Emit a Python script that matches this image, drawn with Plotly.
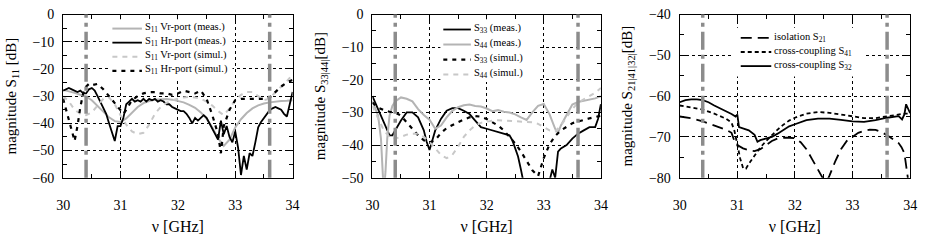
import plotly.graph_objects as go

FONT = "Liberation Serif, Times New Roman, serif"

# ---------------- Panel 1 : S11 ----------------
p1_vr_meas_f = [30.0,30.1,30.2,30.3,30.4,30.5,30.6,30.7,30.8,30.9,31.0,31.1,31.2,31.3,31.4,31.5,31.6,31.7,31.8,31.9,
                32.0,32.1,32.2,32.3,32.4,32.5,32.6,32.7,32.8,32.9,33.0,33.1,33.2,33.3,33.4,33.5,33.6,33.7,33.8,33.9,34.0]
p1_vr_meas_v = [-27.7,-28.2,-28.8,-29.5,-30.2,-31.5,-33.5,-35.8,-37.8,-39.2,-39.5,-38.2,-36.0,-34.0,-32.6,-31.8,-31.3,-31.1,-31.1,-31.3,
                -31.7,-32.3,-33.2,-34.3,-36.0,-38.3,-41.5,-45.5,-48.3,-46.0,-41.5,-38.5,-36.2,-34.5,-33.4,-32.7,-32.3,-32.0,-31.8,-31.7,-31.5]

p1_hr_meas_f = [30.0,30.05,30.1,30.15,30.2,30.25,30.3,30.35,30.4,30.45,30.5,30.55,30.6,30.65,30.7,30.75,30.8,30.85,30.9,30.95,
                31.0,31.05,31.1,31.15,31.2,31.25,31.3,31.35,31.4,31.45,31.5,31.55,31.6,31.65,31.7,31.75,31.8,31.85,31.9,31.95,
                32.0,32.05,32.1,32.15,32.2,32.25,32.3,32.35,32.4,32.45,32.5,32.55,32.6,32.65,32.7,32.75,32.8,32.85,32.9,32.95,
                33.0,33.05,33.1,33.15,33.2,33.25,33.3,33.35,33.4,33.45,33.5,33.55,33.6,33.65,33.7,33.75,33.8,33.85,33.9,33.95,34.0]
p1_hr_meas_v = [-28.0,-27.5,-27.0,-27.5,-28.0,-28.5,-28.0,-29.0,-29.0,-27.5,-27.0,-28.0,-30.0,-32.0,-34.5,-36.5,-40.0,-43.0,-46.5,-41.0,
                -41.0,-38.0,-33.0,-32.0,-31.0,-32.0,-31.5,-32.0,-31.0,-32.0,-31.0,-31.5,-31.0,-32.0,-31.5,-32.0,-33.0,-33.0,-34.0,-34.5,
                -35.0,-35.5,-35.5,-36.5,-38.0,-40.0,-38.0,-39.0,-38.0,-37.0,-38.0,-40.0,-42.0,-44.0,-46.0,-39.0,-44.0,-41.0,-45.0,-47.0,
                -43.0,-49.0,-59.0,-52.0,-57.0,-51.0,-52.0,-47.0,-41.5,-39.5,-38.0,-36.5,-35.2,-34.5,-34.0,-34.5,-35.0,-36.5,-37.5,-33.0,-28.5]

p1_vr_sim_f = p1_vr_meas_f
p1_vr_sim_v = [-30.0,-32.0,-35.0,-36.5,-37.0,-36.0,-33.5,-31.0,-30.5,-33.0,-37.0,-40.5,-43.0,-44.0,-43.5,-40.5,-36.5,-34.0,-32.5,-31.5,
               -31.0,-30.5,-30.3,-30.5,-31.0,-32.0,-33.5,-35.5,-37.0,-34.5,-31.5,-29.5,-28.5,-28.5,-30.0,-31.5,-31.0,-28.5,-26.5,-24.5,-22.0]

p1_hr_sim_f = [30.0,30.05,30.1,30.15,30.2,30.25,30.3,30.35,30.4,30.45,30.5,30.6,30.7,30.8,30.9,31.0,31.05,31.1,31.2,31.3,
               31.4,31.5,31.6,31.7,31.8,31.9,32.0,32.1,32.2,32.3,32.4,32.5,32.6,32.65,32.7,32.75,32.8,32.9,33.0,33.1,
               33.2,33.3,33.4,33.5,33.6,33.7,33.8,33.9,34.0]
p1_hr_sim_v = [-31.0,-35.0,-39.0,-43.0,-46.5,-41.0,-34.0,-29.0,-26.5,-25.5,-26.0,-25.5,-27.5,-30.0,-32.5,-35.0,-36.5,-35.0,-31.5,-30.0,
               -29.0,-28.5,-28.5,-29.0,-29.0,-29.5,-29.0,-28.0,-28.5,-29.0,-28.0,-31.0,-37.0,-41.0,-44.0,-51.0,-41.0,-35.0,-31.5,-31.0,
               -31.0,-31.0,-31.0,-31.0,-30.5,-28.5,-26.5,-25.0,-24.0]

# ---------------- Panel 2 : S33 / S44 ----------------
p2_s33_meas_f = [30.0,30.1,30.2,30.25,30.3,30.35,30.4,30.5,30.6,30.7,30.8,30.9,30.95,31.0,31.05,31.1,31.2,31.3,31.4,31.5,
                 31.6,31.7,31.8,31.9,32.0,32.1,32.2,32.3,32.4,32.45,32.5,32.55,32.6,32.65,32.7,32.8,32.9,33.0,33.05,33.1,
                 33.15,33.2,33.25,33.3,33.4,33.5,33.6,33.7,33.8,33.9,33.95,34.0]
p2_s33_meas_v = [-25.0,-29.0,-33.0,-35.5,-37.0,-37.0,-35.5,-32.5,-30.0,-30.0,-31.5,-35.5,-39.0,-41.5,-38.5,-35.5,-32.0,-29.5,-28.7,-28.7,
                 -29.5,-30.5,-32.5,-34.5,-35.0,-35.5,-36.0,-36.5,-37.0,-38.5,-40.8,-43.5,-47.5,-52.0,-56.0,-58.0,-58.0,-56.0,-54.0,-51.0,
                 -47.5,-50.0,-42.0,-41.0,-40.0,-38.0,-36.5,-35.5,-34.5,-34.5,-32.0,-27.5]

p2_s44_meas_f = [30.0,30.05,30.1,30.15,30.18,30.2,30.23,30.26,30.3,30.35,30.4,30.5,30.6,30.7,30.8,30.9,31.0,31.1,31.2,31.3,
                 31.4,31.5,31.6,31.7,31.8,31.9,32.0,32.1,32.2,32.3,32.4,32.5,32.6,32.7,32.8,32.9,33.0,33.1,33.2,33.25,
                 33.3,33.4,33.5,33.6,33.7,33.8,33.9,34.0]
p2_s44_meas_v = [-26.5,-29.0,-31.0,-38.0,-48.0,-55.0,-48.0,-38.0,-31.0,-28.0,-26.6,-25.4,-25.8,-26.6,-29.0,-30.8,-32.2,-35.0,-34.0,-31.5,
                 -29.5,-28.4,-27.8,-27.6,-28.0,-28.2,-28.8,-29.6,-29.3,-29.8,-30.0,-30.6,-31.5,-32.3,-30.0,-28.0,-27.4,-30.5,-35.0,-36.3,
                 -34.0,-31.0,-27.6,-26.8,-26.5,-26.0,-25.7,-25.0]

p2_s33_sim_f = [30.0,30.1,30.2,30.3,30.4,30.5,30.6,30.7,30.8,30.9,31.0,31.1,31.2,31.3,31.4,31.5,31.6,31.7,31.8,31.9,
                32.0,32.1,32.2,32.3,32.4,32.5,32.6,32.7,32.8,32.9,33.0,33.1,33.2,33.3,33.4,33.5,33.6,33.7,33.8,33.9,34.0]
p2_s33_sim_v = [-27.0,-28.5,-29.3,-29.8,-30.0,-31.0,-33.0,-35.0,-37.0,-38.5,-39.2,-38.5,-36.3,-34.8,-33.8,-33.0,-32.2,-31.5,-31.1,-31.3,
                -32.0,-33.0,-34.0,-35.5,-37.5,-39.5,-42.0,-45.0,-47.7,-49.5,-44.0,-39.8,-37.2,-35.5,-34.3,-33.3,-32.8,-32.2,-31.8,-31.4,-31.0]

p2_s44_sim_f = p2_s33_sim_f
p2_s44_sim_v = [-28.0,-32.0,-35.5,-37.5,-38.0,-37.5,-36.8,-36.5,-36.5,-37.5,-39.0,-41.0,-43.0,-44.0,-43.0,-40.5,-37.5,-35.5,-34.0,-33.2,
                -32.8,-32.5,-32.4,-32.5,-32.7,-32.8,-32.8,-32.8,-33.0,-33.5,-34.5,-35.5,-35.8,-34.0,-31.5,-29.0,-27.0,-26.0,-25.0,-24.0,-22.5]

# ---------------- Panel 3 : S21 / S41 / S32 ----------------
p3_s21_f = [30.0,30.2,30.4,30.6,30.8,30.9,30.95,31.0,31.1,31.2,31.3,31.4,31.5,31.6,31.7,31.8,31.9,32.0,32.1,32.2,
            32.3,32.4,32.5,32.55,32.6,32.7,32.8,32.9,33.0,33.1,33.2,33.3,33.4,33.5,33.6,33.7,33.8,33.85,33.9,33.93,
            33.96,34.0]
p3_s21_v = [-65.0,-65.4,-66.2,-67.2,-68.2,-69.0,-71.0,-72.0,-72.8,-73.3,-73.5,-73.0,-71.9,-71.0,-70.4,-70.2,-70.2,-70.3,-71.3,-73.0,
            -75.5,-78.0,-80.5,-81.0,-79.5,-76.0,-73.0,-71.0,-70.0,-69.0,-68.5,-68.2,-68.3,-68.8,-69.6,-70.5,-71.5,-72.5,-74.0,-77.0,
            -80.0,-82.0]

p3_s41_f = [30.0,30.2,30.4,30.6,30.8,30.9,30.95,31.0,31.05,31.1,31.15,31.2,31.3,31.4,31.5,31.6,31.7,31.8,31.9,32.0,
            32.2,32.4,32.6,32.8,33.0,33.2,33.4,33.6,33.8,33.9,34.0]
p3_s41_v = [-62.3,-62.8,-63.3,-64.3,-65.5,-66.5,-68.5,-71.8,-75.3,-77.6,-77.8,-76.6,-74.5,-72.6,-71.0,-69.5,-68.2,-67.0,-66.0,-65.3,
            -64.3,-63.9,-64.1,-64.5,-65.0,-65.4,-65.4,-65.0,-64.5,-64.3,-64.3]

p3_s32_f = [30.0,30.1,30.2,30.3,30.4,30.5,30.6,30.7,30.8,30.9,30.97,31.0,31.03,31.1,31.2,31.3,31.35,31.4,31.5,31.6,
            31.7,31.8,31.9,32.0,32.2,32.4,32.6,32.8,33.0,33.2,33.4,33.6,33.8,33.86,33.9,33.93,33.96,34.0]
p3_s32_v = [-61.5,-61.0,-60.8,-60.8,-61.0,-61.5,-62.3,-63.0,-63.6,-64.4,-65.0,-64.5,-67.6,-67.9,-68.4,-69.5,-71.2,-70.8,-70.4,-70.0,
            -69.2,-68.2,-67.4,-66.9,-65.9,-65.5,-65.5,-65.8,-66.2,-66.3,-65.9,-65.3,-64.9,-65.7,-64.5,-62.0,-63.0,-64.2]

# band edges (GHz)
band_edges = [30.4, 33.6]

# series labels
p1_names = ["S<sub>11</sub> Vr-port (meas.)", "S<sub>11</sub> Hr-port (meas.)",
            "S<sub>11</sub> Vr-port (simul.)", "S<sub>11</sub> Hr-port (simul.)"]
p2_names = ["S<sub>33</sub> (meas.)", "S<sub>44</sub> (meas.)", "S<sub>33</sub> (simul.)", "S<sub>44</sub> (simul.)"]
p3_names = ["isolation S<sub>21</sub>", "cross-coupling S<sub>41</sub>", "cross-coupling S<sub>32</sub>"]

BLACK = "black"
GRAY_MEAS = "#b4b4b4"
GRAY_SIM = "#c8c8c8"
EDGE = "#8c8c8c"
ST_GM = dict(color=GRAY_MEAS, width=2, dash="solid")
ST_BM = dict(color=BLACK, width=1.8, dash="solid")
ST_GS = dict(color=GRAY_SIM, width=2, dash="5px,5px")
ST_BS = dict(color=BLACK, width=2.2, dash="4px,5px")
ST_DASH = dict(color=BLACK, width=1.8, dash="11px,6px")
ST_DOT = dict(color=BLACK, width=1.8, dash="4px,3px")

W, H = 926, 242
TOP, BOT = 8, 182
PANELS = [(57, 290), (371, 603), (683, 917)]

def px(xp):
    return xp / W

def py(yp):
    return 1 - yp / H

fig = go.Figure()

def add(xa, ya, f, v, name, st):
    fig.add_trace(go.Scatter(x=f, y=v, mode="lines", name=name, line=dict(st),
                             xaxis=xa, yaxis=ya, showlegend=False))

series = [
    ("x", "y", p1_vr_meas_f, p1_vr_meas_v, p1_names[0], ST_GM),
    ("x", "y", p1_hr_meas_f, p1_hr_meas_v, p1_names[1], ST_BM),
    ("x", "y", p1_vr_sim_f, p1_vr_sim_v, p1_names[2], ST_GS),
    ("x", "y", p1_hr_sim_f, p1_hr_sim_v, p1_names[3], ST_BS),
    ("x2", "y2", p2_s33_meas_f, p2_s33_meas_v, p2_names[0], ST_BM),
    ("x2", "y2", p2_s44_meas_f, p2_s44_meas_v, p2_names[1], ST_GM),
    ("x2", "y2", p2_s33_sim_f, p2_s33_sim_v, p2_names[2], ST_BS),
    ("x2", "y2", p2_s44_sim_f, p2_s44_sim_v, p2_names[3], ST_GS),
    ("x3", "y3", p3_s21_f, p3_s21_v, p3_names[0], ST_DASH),
    ("x3", "y3", p3_s41_f, p3_s41_v, p3_names[1], ST_DOT),
    ("x3", "y3", p3_s32_f, p3_s32_v, p3_names[2], ST_BM),
]
for s in series:
    add(*s)

ytop, ybot = py(TOP), py(BOT)
doms = [[px(a), px(b)] for (a, b) in PANELS]
tickfont = dict(family=FONT, size=14, color="black")
titlefont = dict(family=FONT, size=15, color="black")

def xaxis(dom, anchor):
    return dict(domain=dom, anchor=anchor, range=[30, 34], tick0=30, dtick=1,
                ticks="inside", ticklen=7, tickcolor="black", showline=True, linecolor="black",
                linewidth=1, mirror="ticks", showgrid=True, gridcolor="black", griddash="dot",
                gridwidth=1, zeroline=False, tickfont=tickfont, ticklabelstandoff=14,
                ticklabeloverflow="allow",
                minor=dict(dtick=0.5, tick0=30, ticks="inside", ticklen=4, tickcolor="black", showgrid=False),
                title=dict(text="ν [GHz]", font=dict(family=FONT, size=16, color="black"), standoff=9))

def yaxis(dom, anchor, rng, title):
    return dict(domain=dom, anchor=anchor, range=rng, dtick=10,
                ticks="inside", ticklen=7, tickcolor="black", showline=True, linecolor="black",
                linewidth=1, mirror="ticks", showgrid=True, gridcolor="black", griddash="dot",
                gridwidth=1, zeroline=False, tickfont=tickfont, ticklabelstandoff=5,
                ticklabeloverflow="allow",
                minor=dict(dtick=5, ticks="inside", ticklen=4, tickcolor="black", showgrid=False),
                title=dict(text=title, font=titlefont, standoff=12))

shapes = []
annotations = []
axes = [("x", "y"), ("x2", "y2"), ("x3", "y3")]

# white key boxes (hide the grid behind each key; no data passes through them)
legend_boxes = [(104, 13, 229, 78), (440, 13, 540, 80), (738, 22, 872, 74)]
for (x0, y0, x1, y1) in legend_boxes:
    shapes.append(dict(type="rect", xref="paper", yref="paper", x0=px(x0), x1=px(x1), y0=py(y1), y1=py(y0),
                       fillcolor="white", line=dict(width=0), layer="above"))

# band-edge markers
for xa, ya in axes:
    for e in band_edges:
        shapes.append(dict(type="line", xref=xa, yref=ya + " domain", x0=e, x1=e, y0=0, y1=1, layer="above",
                           line=dict(color=EDGE, width=3.5, dash="18px,5px,4px,5px")))

# key entries: (sample x0, sample x1, first row y, row step, names, styles)
keys = [
    (107, 137, 23, 15, p1_names, [ST_GM, ST_BM, ST_GS, ST_BS]),
    (443, 471, 24, 16, p2_names, [ST_BM, ST_GM, ST_BS, ST_GS]),
    (745, 776, 33, 15, p3_names, [ST_DASH, ST_DOT, ST_BM]),
]
for (sx0, sx1, ry, step, names, styles) in keys:
    for i, (nm, st) in enumerate(zip(names, styles)):
        yy = ry + i * step
        shapes.append(dict(type="line", xref="paper", yref="paper", x0=px(sx0), x1=px(sx1),
                           y0=py(yy), y1=py(yy), line=dict(st), layer="above"))
        annotations.append(dict(text=nm, xref="paper", yref="paper", x=px(sx1 + 2), y=py(yy - 1),
                                xanchor="left", yanchor="middle", showarrow=False, borderpad=0,
                                font=dict(family=FONT, size=10.5, color="black")))

fig.update_layout(
    width=W, height=H, margin=dict(l=0, r=0, t=0, b=0),
    paper_bgcolor="white", plot_bgcolor="white", font=dict(family=FONT, color="black"),
    xaxis=xaxis(doms[0], "y"), yaxis=yaxis([ybot, ytop], "x", [-60, 0], "magnitude S<sub>11</sub> [dB]"),
    xaxis2=xaxis(doms[1], "y2"), yaxis2=yaxis([ybot, ytop], "x2", [-50, 0], "magnitude S<sub>33|44|</sub>[dB]"),
    xaxis3=xaxis(doms[2], "y3"), yaxis3=yaxis([ybot, ytop], "x3", [-80, -40], "magnitude S<sub>21|41|32|</sub>[dB]"),
    shapes=shapes, annotations=annotations, showlegend=False,
)

fig.write_html("out.html", config={"displayModeBar": False},
               post_script="document.body.style.margin='0';")
